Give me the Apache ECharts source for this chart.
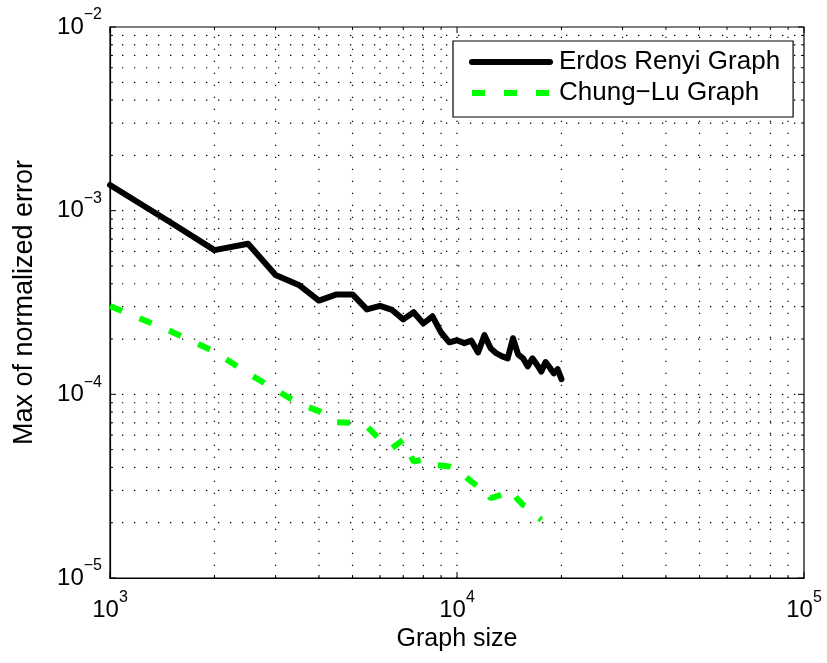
<!DOCTYPE html>
<html>
<head>
<meta charset="utf-8">
<script src="https://cdn.jsdelivr.net/npm/echarts@6/dist/echarts.min.js"></script>
<style>
html,body{margin:0;padding:0;background:#fff;}
#chart{width:827px;height:663px;}
</style>
</head>
<body>
<div id="chart"></div>
<script>
// ---- data ----
var erdosX = [1000,1500,2000,2500,3000,3500,4000,4500,5000,5500,6000,6500,7000,7500,8000,8500,9000,9500,10000,10500,11000,11500,12000,12500,13000,13500,14000,14500,15000,15500,16000,16500,17000,17500,18000,18500,19000,19500,20000];
var erdosY = [1.38e-3,8.6e-4,6.1e-4,6.6e-4,4.47e-4,3.94e-4,3.24e-4,3.5e-4,3.5e-4,2.9e-4,3.03e-4,2.88e-4,2.56e-4,2.8e-4,2.43e-4,2.66e-4,2.17e-4,1.92e-4,1.97e-4,1.90e-4,1.96e-4,1.69e-4,2.1e-4,1.78e-4,1.67e-4,1.61e-4,1.57e-4,2.02e-4,1.65e-4,1.57e-4,1.42e-4,1.57e-4,1.45e-4,1.33e-4,1.5e-4,1.40e-4,1.30e-4,1.37e-4,1.21e-4];
var chungX = [1000,1500,2000,2500,3000,3500,4000,4500,5000,5500,6000,6500,7000,7500,8000,8500,9000,9500,10000,10500,11000,11500,12000,12500,13000,13500,14000,14500,15000,15500,16000,16500,17000,17500];
var chungY = [3.03e-4,2.2e-4,1.71e-4,1.30e-4,1.06e-4,8.9e-5,8.1e-5,7.05e-5,7.0e-5,6.7e-5,5.65e-5,5.1e-5,5.65e-5,4.3e-5,4.44e-5,4.12e-5,4.1e-5,4.05e-5,3.9e-5,3.6e-5,3.35e-5,3.15e-5,3.12e-5,2.72e-5,2.78e-5,2.85e-5,3.02e-5,2.9e-5,2.66e-5,2.5e-5,2.42e-5,2.3e-5,2.16e-5,2.07e-5];
var seriesNames = ['Erdos Renyi Graph', 'Chung\u2212Lu Graph'];
var xMajor = [1000, 10000, 100000];
var xMinor = [2000,3000,4000,5000,6000,7000,8000,9000,20000,30000,40000,50000,60000,70000,80000,90000];
var yMajor = [1e-5, 1e-4, 1e-3, 1e-2];
var yMinor = [2e-5,3e-5,4e-5,5e-5,6e-5,7e-5,8e-5,9e-5,2e-4,3e-4,4e-4,5e-4,6e-4,7e-4,8e-4,9e-4,2e-3,3e-3,4e-3,5e-3,6e-3,7e-3,8e-3,9e-3];
var xTitle = 'Graph size';
var yTitle = 'Max of normalized error';

var X_MIN = 1000, X_MAX = 100000, Y_MIN = 1e-5, Y_MAX = 1e-2;
var FONT = '"Liberation Sans", Arial, Helvetica, sans-serif';

function zip(xs, ys) { return xs.map(function (x, i) { return [x, ys[i]]; }); }
function expLabel(v) {
  var e = Math.round(Math.log(v) / Math.LN10);
  var s = e < 0 ? '\u2212' + (-e) : '' + e;
  return '{b|10}{s|' + s + '}';
}
var richLab = {
  b: { fontSize: 24, fontFamily: FONT, color: '#000', lineHeight: 40 },
  s: { fontSize: 16, fontFamily: FONT, color: '#000', lineHeight: 16, verticalAlign: 'top' }
};

var DOT = [1.3, 10.7];
function vItem(params, api) {
  var v = api.value(0);
  var major = xMajor.indexOf(v) >= 0;
  var len = major ? 6 : 3;
  var b = api.coord([v, Y_MIN]);
  var t = api.coord([v, Y_MAX]);
  var ch = [];
  if (v > X_MIN && v < X_MAX) {
    ch.push({ type: 'line', shape: { x1: b[0], y1: b[1], x2: t[0], y2: t[1] },
      style: { stroke: '#000', lineWidth: 1.2, lineDash: DOT } });
  }
  ch.push({ type: 'line', shape: { x1: b[0], y1: b[1], x2: b[0], y2: b[1] - len }, style: { stroke: '#000', lineWidth: 1 } });
  ch.push({ type: 'line', shape: { x1: t[0], y1: t[1], x2: t[0], y2: t[1] + len }, style: { stroke: '#000', lineWidth: 1 } });
  return { type: 'group', children: ch };
}
function hItem(params, api) {
  var v = api.value(1);
  var major = yMajor.indexOf(v) >= 0;
  var len = major ? 6 : 3;
  var l = api.coord([X_MIN, v]);
  var r = api.coord([X_MAX, v]);
  var ch = [];
  if (v > Y_MIN && v < Y_MAX) {
    ch.push({ type: 'line', shape: { x1: l[0], y1: l[1], x2: r[0], y2: r[1] },
      style: { stroke: '#000', lineWidth: 1.2, lineDash: DOT } });
  }
  ch.push({ type: 'line', shape: { x1: l[0], y1: l[1], x2: l[0] + len, y2: l[1] }, style: { stroke: '#000', lineWidth: 1 } });
  ch.push({ type: 'line', shape: { x1: r[0], y1: r[1], x2: r[0] - len, y2: r[1] }, style: { stroke: '#000', lineWidth: 1 } });
  return { type: 'group', children: ch };
}

var chart = echarts.init(document.getElementById('chart'), null, { renderer: 'canvas' });
chart.setOption({
  animation: false,
  backgroundColor: '#fff',
  grid: { left: 110, right: 23, top: 27, bottom: 85, show: true, borderColor: '#000', borderWidth: 1.2, backgroundColor: 'transparent' },
  xAxis: {
    type: 'log', logBase: 10, min: X_MIN, max: X_MAX,
    name: xTitle, nameLocation: 'middle', nameGap: 46,
    nameTextStyle: { fontSize: 25, fontFamily: FONT, color: '#000' },
    axisLine: { show: true, lineStyle: { color: '#000', width: 1.2 } },
    axisTick: { show: false },
    splitLine: { show: false },
    axisLabel: { formatter: expLabel, rich: richLab, margin: 12, showMinLabel: true, showMaxLabel: true }
  },
  yAxis: {
    type: 'log', logBase: 10, min: Y_MIN, max: Y_MAX,
    name: yTitle, nameLocation: 'middle', nameGap: 72, nameRotate: 90,
    nameTextStyle: { fontSize: 27, fontFamily: FONT, color: '#000' },
    axisLine: { show: true, lineStyle: { color: '#000', width: 1.2 } },
    axisTick: { show: false },
    splitLine: { show: false },
    axisLabel: { formatter: expLabel, rich: richLab, margin: 8, showMinLabel: true, showMaxLabel: true }
  },
  legend: {
    data: seriesNames,
    orient: 'vertical',
    left: 453, top: 41,
    backgroundColor: '#fff', borderColor: '#000', borderWidth: 1.2,
    padding: [8, 13, 11, 16],
    itemWidth: 78, itemHeight: 14, itemGap: 5,
    itemStyle: { opacity: 0 },
    lineStyle: { width: 6 },
    textStyle: { fontSize: 26, fontFamily: FONT, color: '#000', padding: [0, 0, 0, 4] }
  },
  series: [
    { type: 'custom', silent: true, z: 1, renderItem: vItem,
      data: xMajor.concat(xMinor).map(function (v) { return [v, Y_MIN]; }), encode: { x: 0, y: 1 } },
    { type: 'custom', silent: true, z: 1, renderItem: hItem,
      data: yMajor.concat(yMinor).map(function (v) { return [X_MIN, v]; }), encode: { x: 0, y: 1 } },
    { name: seriesNames[0], type: 'line', z: 5, data: zip(erdosX, erdosY), symbol: 'none', smooth: false,
      lineStyle: { color: '#000', width: 6, join: 'round', cap: 'round' }, itemStyle: { color: '#000' } },
    { name: seriesNames[1], type: 'line', z: 4, data: zip(chungX, chungY), symbol: 'none', smooth: false,
      lineStyle: { color: '#00ff00', width: 6, type: [13, 19], cap: 'butt' }, itemStyle: { color: '#00ff00' } }
  ]
});
</script>
</body>
</html>
